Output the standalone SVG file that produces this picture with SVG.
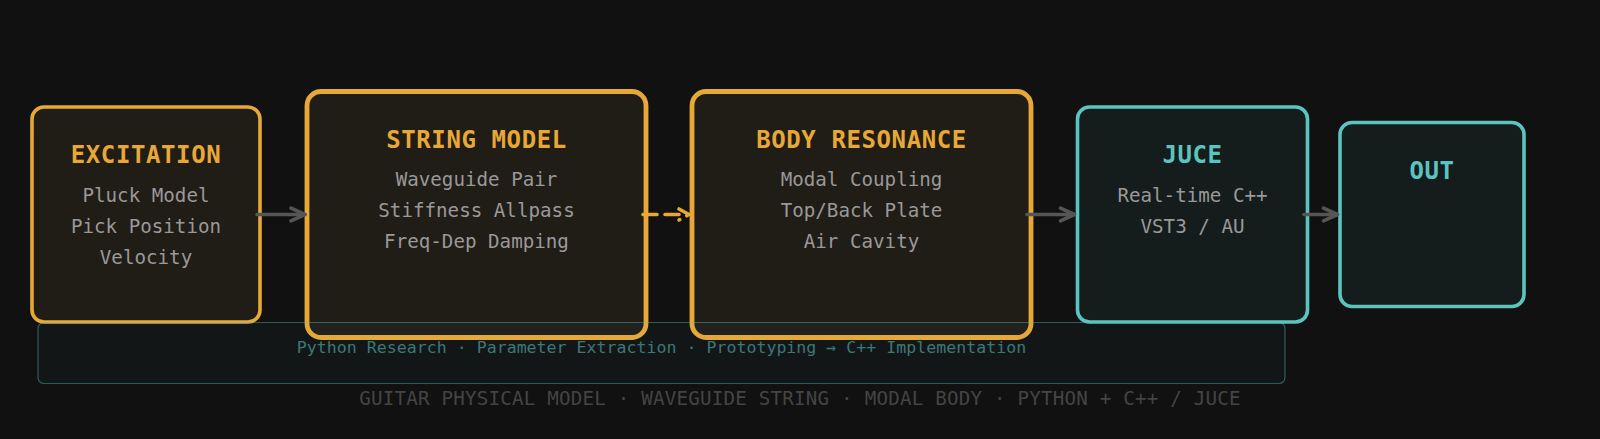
<svg xmlns="http://www.w3.org/2000/svg" width="1600" height="439" viewBox="0 0 1600 439">
  <defs>
    <style>
      text { font-family: "DejaVu Sans Mono", "Liberation Mono", monospace; text-anchor: middle; }
      .box-o { fill: #201c16; stroke: #e8a838; }
      .box-t { fill: #151c1c; stroke: #5bc4c0; stroke-width: 3.6; }
      .thin { stroke-width: 3.6; }
      .thick { stroke-width: 4.8; }
      .title-o { fill: #e8a838; font-size: 24px; font-weight: bold; letter-spacing: 0.6px; }
      .title-t { fill: #5bc4c0; font-size: 24px; font-weight: bold; letter-spacing: 0.6px; }
      .sub { fill: #999999; font-size: 19.2px; }
      .conn { fill: none; stroke: #555555; stroke-width: 3.6; stroke-linecap: round; }
      .conn-d { fill: none; stroke: #e8a838; stroke-width: 3.6; stroke-linecap: round; stroke-linejoin: round; stroke-dasharray: 14 8; }
      .panel { fill: rgba(91,192,190,0.03); stroke: rgba(91,192,190,0.42); stroke-width: 1.2; }
      .panel-text { fill: #3b7878; font-size: 16.6px; }
      .footer { fill: #444444; font-size: 19.2px; letter-spacing: 0.2px; }
    </style>
    <marker id="ah" viewBox="0 0 16 14" refX="15" refY="7" markerWidth="16" markerHeight="14" markerUnits="userSpaceOnUse" orient="auto" overflow="visible">
      <path d="M1,0.7 L15,7 L1,13.3" fill="none" stroke="#555555" stroke-width="3.6" stroke-linecap="round" stroke-linejoin="round"/>
    </marker>
  </defs>

  <rect x="0" y="0" width="1600" height="439" fill="#111111"/>

  <g id="excitation">
    <rect class="box-o thin" x="32" y="107" width="228" height="215" rx="12"/>
    <text class="title-o" x="146" y="163">EXCITATION</text>
    <text class="sub" x="146" y="202">Pluck Model</text>
    <text class="sub" x="146" y="233">Pick Position</text>
    <text class="sub" x="146" y="264">Velocity</text>
  </g>

  <g id="string-model">
    <rect class="box-o thick" x="307" y="91.5" width="339" height="246" rx="14"/>
    <text class="title-o" x="476.5" y="148">STRING MODEL</text>
    <text class="sub" x="476.5" y="186">Waveguide Pair</text>
    <text class="sub" x="476.5" y="217">Stiffness Allpass</text>
    <text class="sub" x="476.5" y="248">Freq-Dep Damping</text>
  </g>

  <g id="body-resonance">
    <rect class="box-o thick" x="692" y="91.5" width="339" height="246" rx="14"/>
    <text class="title-o" x="861.5" y="148">BODY RESONANCE</text>
    <text class="sub" x="861.5" y="186">Modal Coupling</text>
    <text class="sub" x="861.5" y="217">Top/Back Plate</text>
    <text class="sub" x="861.5" y="248">Air Cavity</text>
  </g>

  <g id="juce">
    <rect class="box-t" x="1077.5" y="107" width="230" height="215" rx="12"/>
    <text class="title-t" x="1192.5" y="163">JUCE</text>
    <text class="sub" x="1192.5" y="201.5">Real-time C++</text>
    <text class="sub" x="1192.5" y="232.5">VST3 / AU</text>
  </g>

  <g id="out">
    <rect class="box-t" x="1340" y="122.5" width="184" height="184" rx="12"/>
    <text class="title-t" x="1432" y="178.5">OUT</text>
  </g>

  <g id="connectors">
    <line class="conn" x1="257" y1="214.5" x2="305" y2="214.5" marker-end="url(#ah)"/>
    <line class="conn-d" x1="643" y1="214.5" x2="680" y2="214.5"/>
    <path class="conn-d" d="M679,209 L689,214.5 L679,220"/>
    <line class="conn" x1="1027" y1="214.5" x2="1074.5" y2="214.5" marker-end="url(#ah)"/>
    <line class="conn" x1="1304" y1="214.5" x2="1337.5" y2="214.5" marker-end="url(#ah)"/>
  </g>

  <g id="research-panel">
    <rect class="panel" x="38" y="322.5" width="1247" height="61" rx="6"/>
    <text class="panel-text" x="661.5" y="353">Python Research · Parameter Extraction · Prototyping → C++ Implementation</text>
  </g>

  <text class="footer" x="800" y="405">GUITAR PHYSICAL MODEL · WAVEGUIDE STRING · MODAL BODY · PYTHON + C++ / JUCE</text>
</svg>
